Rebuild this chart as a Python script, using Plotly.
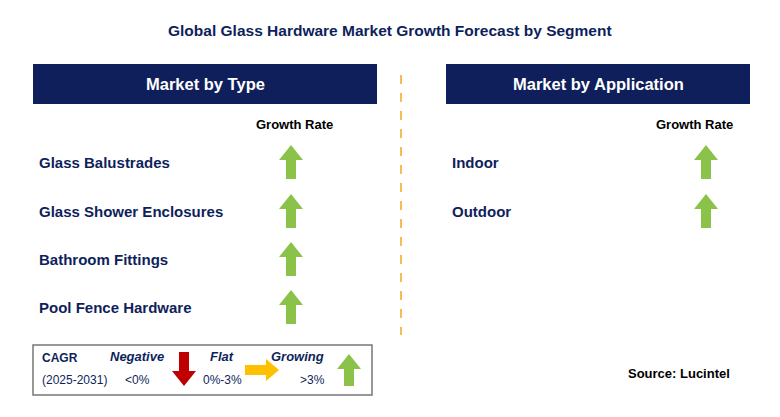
import plotly.graph_objects as go

title = "Global Glass Hardware Market Growth Forecast by Segment"
type_labels = ["Glass Balustrades", "Glass Shower Enclosures", "Bathroom Fittings", "Pool Fence Hardware"]
type_trend = ["up", "up", "up", "up"]
app_labels = ["Indoor", "Outdoor"]
app_trend = ["up", "up"]

NAVY = "#0f1f5c"
GREEN = "#8bc34a"
RED = "#c00000"
ORANGE = "#ffc000"
ROW_Y = [162, 211, 259, 307]

fig = go.Figure()
shapes, ann = [], []

def up_arrow(cx, top, bot, color):
    hw, sw, hh = 12, 5, 15
    xs = [cx, cx+hw, cx+sw, cx+sw, cx-sw, cx-sw, cx-hw, cx]
    ys = [top, top+hh, top+hh, bot, bot, top+hh, top+hh, top]
    fig.add_trace(go.Scatter(x=xs, y=ys, fill="toself", fillcolor=color, mode="lines",
                             line=dict(width=0, color=color), hoverinfo="skip", showlegend=False))

def down_arrow(cx, top, bot, color):
    hw, sw, hh = 12, 5, 15
    xs = [cx, cx+hw, cx+sw, cx+sw, cx-sw, cx-sw, cx-hw, cx]
    ys = [bot, bot-hh, bot-hh, top, top, bot-hh, bot-hh, bot]
    fig.add_trace(go.Scatter(x=xs, y=ys, fill="toself", fillcolor=color, mode="lines",
                             line=dict(width=0, color=color), hoverinfo="skip", showlegend=False))

def right_arrow(left, right, cy, color):
    hh, sw, hl = 11, 5, 13
    xs = [right, right-hl, right-hl, left, left, right-hl, right-hl, right]
    ys = [cy, cy-hh, cy-sw, cy-sw, cy+sw, cy+sw, cy+hh, cy]
    fig.add_trace(go.Scatter(x=xs, y=ys, fill="toself", fillcolor=color, mode="lines",
                             line=dict(width=0, color=color), hoverinfo="skip", showlegend=False))

def text(x, y, t, size=12, color=NAVY, bold=True, anchor="left", italic=False):
    s = t
    if bold: s = f"<b>{s}</b>"
    if italic: s = f"<i>{s}</i>"
    ann.append(dict(x=x, y=y, text=s, showarrow=False, xanchor=anchor, yanchor="middle",
                    font=dict(size=size, color=color, family="Arial")))

text(390, 30, title, 15.5, anchor="center")
shapes.append(dict(type="rect", x0=33, x1=377, y0=64, y1=104, fillcolor=NAVY, line_width=0))
shapes.append(dict(type="rect", x0=446, x1=750, y0=64, y1=104, fillcolor=NAVY, line_width=0))
text(205, 84, "Market by Type", 16.5, "white", anchor="center")
text(598, 84, "Market by Application", 16.5, "white", anchor="center")
shapes.append(dict(type="line", x0=401, x1=401, y0=75, y1=335, line=dict(color="#f5a623", width=1.5, dash="dash")))
text(294, 124, "Growth Rate", 13, "black", anchor="center")
text(694, 124, "Growth Rate", 13, "black", anchor="center")

for lab, tr, y in zip(type_labels, type_trend, ROW_Y):
    text(37, y, lab, 15)
    up_arrow(291, y-17, y+17, GREEN)
for lab, tr, y in zip(app_labels, app_trend, ROW_Y):
    text(450, y, lab, 15)
    up_arrow(706, y-17, y+17, GREEN)

shapes.append(dict(type="rect", x0=33, x1=372, y0=345, y1=395, line=dict(color="#777", width=1.5)))
text(40, 358, "CAGR", 12)
text(40, 380, "(2025-2031)", 12, bold=False)
text(137, 356, "Negative", 13, italic=True, anchor="center")
text(137, 380, "<0%", 12, bold=False, anchor="center")
down_arrow(184, 352, 386, RED)
text(222, 356, "Flat", 13, italic=True, anchor="center")
text(222, 380, "0%-3%", 12, bold=False, anchor="center")
right_arrow(245, 279, 370, ORANGE)
text(297, 356, "Growing", 13, italic=True, anchor="center")
text(312, 380, ">3%", 12, bold=False, anchor="center")
up_arrow(349, 354, 386, GREEN)

text(732, 373, "Source: Lucintel", 13, "black", anchor="right")

fig.update_layout(width=780, height=417, margin=dict(l=0, r=0, t=0, b=0),
                  plot_bgcolor="white", paper_bgcolor="white", shapes=shapes, annotations=ann,
                  xaxis=dict(range=[8, 788], visible=False, fixedrange=True),
                  yaxis=dict(range=[425, 8], visible=False, fixedrange=True))
fig.write_html("out.html")
